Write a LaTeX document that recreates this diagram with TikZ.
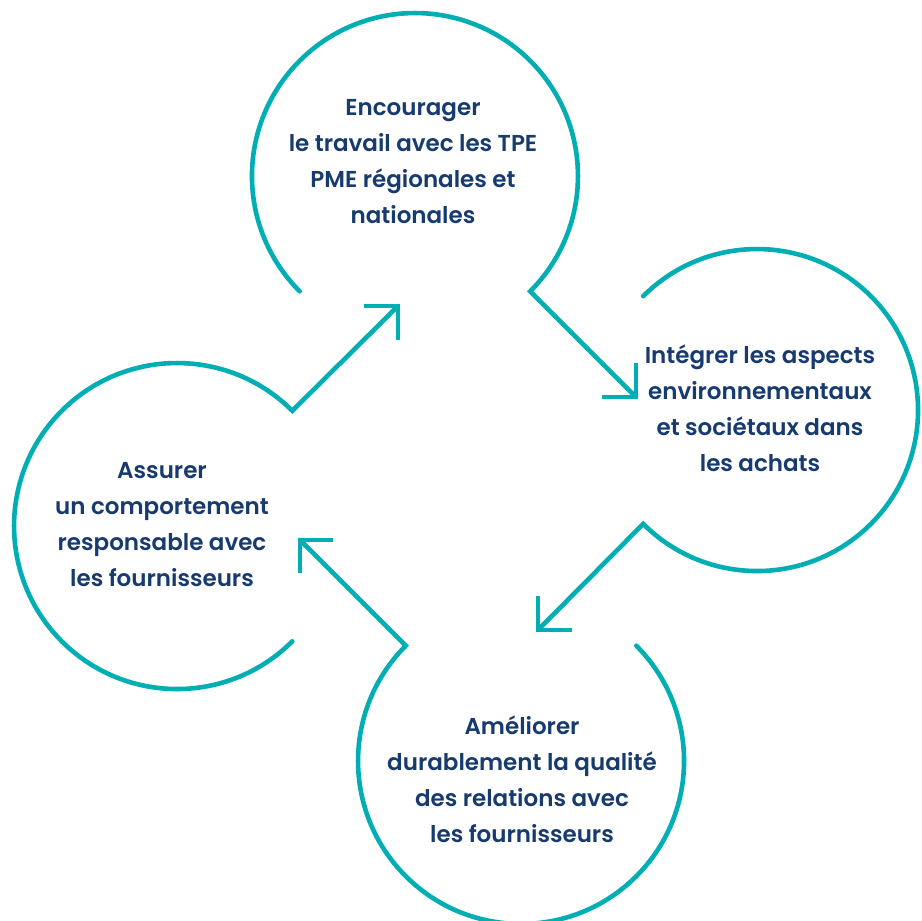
\documentclass[tikz,border=0pt]{standalone}
\usepackage{fontspec}
\setmainfont{Poppins}[UprightFont={* SemiBold}]
\definecolor{ringteal}{HTML}{00AEB4}
\definecolor{labnavy}{HTML}{173A6F}
\begin{document}
\begin{tikzpicture}[x=1pt,y=-1pt,
  ring/.style={draw=ringteal, line width=4.6pt, line join=miter, line cap=round},
  headarms/.style={draw=ringteal, line width=4.6pt, line join=miter, line cap=butt},
  lab/.style={align=center, text=labnavy, inner sep=0pt, font=\fontsize{23}{36}\selectfont}]
\useasboundingbox (0,0) rectangle (922,921);
\fill[white] (0,0) rectangle (922,921);
% key points
\coordinate (Tstart) at (299.7,291.3);
\coordinate (Ttip) at (636,397);
\coordinate (Ta1) at (602,397);
\coordinate (Ta2) at (636,363);
\coordinate (Rstart) at (643.2,296.2);
\coordinate (Rtip) at (538,630);
\coordinate (Ra1) at (572,630);
\coordinate (Ra2) at (538,596);
\coordinate (Bstart) at (636.3,645.7);
\coordinate (Btip) at (300,540);
\coordinate (Ba1) at (333,540);
\coordinate (Ba2) at (300,573);
\coordinate (Lstart) at (292.3,641.3);
\coordinate (Ltip) at (398,306);
\coordinate (La1) at (364,306);
\coordinate (La2) at (398,340);
% rings with outgoing connectors
\draw[ring] (Tstart) arc[start angle=135, end angle=405, radius=163] -- (Ttip);
\draw[headarms] (Ta1) -- (Ttip) -- (Ta2);
\draw[ring] (Rstart) arc[start angle=225, end angle=495, radius=161] -- (Rtip);
\draw[headarms] (Ra1) -- (Rtip) -- (Ra2);
\draw[ring] (Bstart) arc[start angle=315, end angle=585, radius=163] -- (Btip);
\draw[headarms] (Ba1) -- (Btip) -- (Ba2);
\draw[ring] (Lstart) arc[start angle=45, end angle=315, radius=163] -- (Ltip);
\draw[headarms] (La1) -- (Ltip) -- (La2);
% labels
\node[lab] (top) at (413,161.5) {Encourager\\le travail avec les TPE\\PME régionales et\\nationales};
\node[lab] (right) at (760,408) {Intégrer les aspects\\environnementaux\\et sociétaux dans\\les achats};
\node[lab] (left) at (162,525) {Assurer\\un comportement\\responsable avec\\les fournisseurs};
\node[lab] (bottom) at (522,779) {Améliorer\\durablement la qualité\\des relations avec\\les fournisseurs};
\end{tikzpicture}
\end{document}
